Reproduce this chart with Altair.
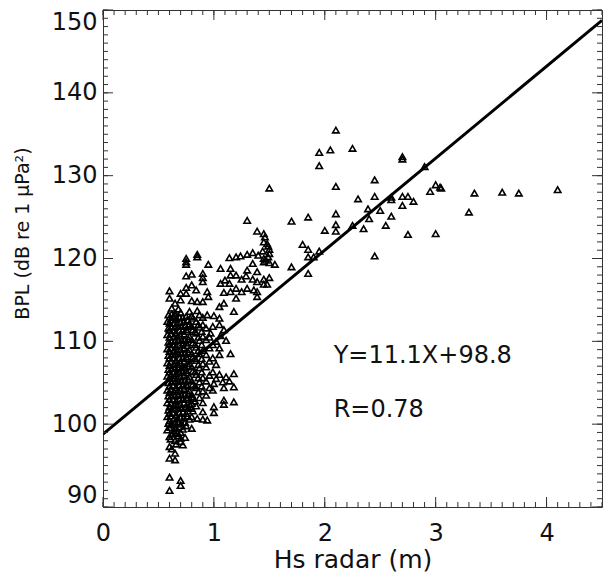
import altair as alt
import pandas as pd

# ---------------- data ----------------
# upper / right scattered points
hs_high = [2.10, 1.95, 2.05, 2.25, 1.95, 2.70, 2.70, 2.90, 2.45, 2.10,
           3.00, 3.05, 3.04, 2.95, 2.30, 2.45, 2.60, 2.60, 2.70, 2.75,
           2.80, 2.70, 2.39, 2.50, 2.40, 2.60, 1.85, 2.10, 2.10, 2.10,
           2.00, 2.25, 2.35, 2.55, 2.75, 3.00, 2.45, 1.80, 1.85, 1.85,
           1.90, 1.95, 1.85, 3.35, 3.60, 3.75, 4.10, 3.30, 1.50, 1.30, 1.70]
bpl_high = [135.5, 132.8, 133.1, 133.3, 131.2, 132.0, 132.3, 131.1, 129.5, 128.7,
            128.9, 128.5, 128.6, 128.1, 127.2, 127.5, 127.4, 127.1, 127.5, 127.5,
            126.9, 126.4, 126.0, 125.8, 124.8, 125.1, 125.0, 125.4, 124.1, 123.3,
            123.4, 124.0, 123.6, 124.0, 122.9, 123.0, 120.3, 121.7, 121.1, 120.2,
            120.2, 120.9, 118.2, 127.9, 128.0, 127.9, 128.3, 125.6, 128.5, 124.6, 124.5]

# middle group (Hs 1.1 - 1.7 m)
hs_mid = [1.39, 1.45, 1.45, 1.49, 1.50, 1.50, 1.49, 1.47, 1.70, 1.55,
          1.14, 1.20, 1.30, 1.35, 1.40, 1.45, 1.45, 1.15, 1.15, 1.30,
          1.35, 1.39, 1.20, 1.25, 1.35, 1.39, 1.45, 1.48, 1.50, 1.45,
          1.14, 1.20, 1.15, 1.25, 1.30, 1.39, 1.39, 1.09, 1.20, 1.18,
          1.46, 1.48, 1.44, 1.50, 1.24, 1.29, 1.10, 1.36]
bpl_mid = [123.3, 123.0, 122.0, 121.5, 121.1, 120.6, 120.2, 119.8, 119.0, 119.3,
           120.1, 120.2, 120.5, 120.7, 120.4, 120.0, 119.6, 118.8, 118.0, 118.6,
           119.4, 118.4, 118.0, 117.5, 117.5, 117.2, 116.9, 116.9, 117.7, 117.5,
           117.0, 116.4, 116.0, 116.0, 116.4, 116.0, 115.4, 115.9, 115.2, 113.6,
           122.6, 121.8, 120.9, 119.5, 120.3, 117.9, 117.4, 116.2]

# upper-left group (Hs 0.6 - 1.1 m, above the dense block)
hs_left = [0.85, 0.85, 0.75, 0.75, 0.75, 0.95, 1.06, 0.90, 0.90, 0.90,
           0.75, 0.80, 1.06, 0.80, 0.75, 0.84, 0.60, 0.60, 0.70, 0.75,
           0.94, 0.95, 0.65, 0.70, 0.80, 0.85, 0.90, 1.05, 1.09, 0.65,
           0.80, 0.85, 0.90, 0.94, 1.00, 1.05, 0.62, 0.68]
bpl_left = [120.5, 120.2, 120.0, 119.6, 119.3, 119.3, 118.8, 118.2, 117.7, 117.2,
            117.9, 118.1, 117.0, 116.8, 116.5, 116.2, 116.1, 115.2, 115.8, 115.8,
            116.0, 115.4, 114.6, 115.0, 114.9, 114.8, 114.8, 114.2, 114.6, 113.1,
            113.1, 113.7, 112.9, 113.2, 113.1, 112.8, 114.0, 113.9]

# points on the right edge / below the dense block
hs_edge = [1.05, 1.09, 0.97, 1.06, 1.11, 1.15, 1.18, 1.18, 1.11, 1.14,
           1.08, 1.09, 1.00, 0.96, 1.18, 0.90, 1.00, 1.00, 1.09, 1.09,
           0.80, 0.85, 0.90, 0.90, 0.94, 0.75, 0.80, 0.75, 0.80, 0.80]
bpl_edge = [112.0, 111.4, 111.0, 110.7, 110.1, 108.5, 106.1, 104.5, 105.7, 105.2,
            105.1, 104.4, 104.9, 104.4, 102.7, 102.6, 102.1, 101.4, 102.9, 102.4,
            100.9, 100.7, 101.5, 100.6, 100.5, 99.8, 99.5, 102.1, 102.5, 103.3]

# low tail
hs_low = [0.60, 0.60, 0.65, 0.70, 0.70, 0.60, 0.65, 0.65, 0.60, 0.70, 0.70, 0.60, 0.62, 0.72]
bpl_low = [98.5, 97.3, 98.9, 98.3, 97.9, 95.9, 96.5, 95.7, 93.6, 93.2, 92.6, 92.0, 97.0, 97.5]

# dense block: Hs value -> BPL values
dense_columns = {
    0.58: [99.3, 100.9, 102.6, 104.1, 105.8, 107.4, 109.1, 110.8, 112.4],
    0.59: [100.1, 101.7, 103.4, 105.0, 106.6, 108.3, 109.9, 111.6, 113.2],
    0.60: [99.6, 100.4, 101.3, 102.1, 103.0, 103.8, 104.6, 105.5, 106.3, 107.1,
           108.0, 108.8, 109.7, 110.5, 111.4, 112.2],
    0.61: [98.2, 101.0, 102.5, 104.2, 105.9, 107.5, 109.2, 110.9, 112.6],
    0.62: [98.8, 100.1, 101.8, 103.4, 105.1, 106.7, 108.4, 110.0, 111.7, 113.3],
    0.63: [99.9, 101.4, 103.0, 104.7, 106.3, 108.0, 109.6, 111.3, 112.9],
    0.64: [99.2, 100.7, 102.3, 104.0, 105.6, 107.3, 108.9, 110.6, 112.2],
    0.65: [98.0, 100.2, 101.9, 103.5, 105.2, 106.8, 108.5, 110.1, 111.8, 113.4],
    0.66: [97.6, 99.5, 101.1, 102.8, 104.4, 106.1, 107.7, 109.4, 111.0, 112.7],
    0.67: [99.0, 100.6, 102.2, 103.9, 105.5, 107.2, 108.8, 110.5, 112.1],
    0.68: [98.6, 100.3, 101.9, 103.6, 105.2, 106.9, 108.5, 110.2, 111.8],
    0.69: [99.7, 101.4, 103.0, 104.7, 106.3, 108.0, 109.6, 111.3, 112.9],
    0.70: [99.0, 100.8, 102.4, 104.1, 105.7, 107.4, 109.0, 110.7, 112.3, 113.5],
    0.71: [100.0, 101.9, 103.5, 105.2, 106.8, 108.5, 110.1, 111.8],
    0.72: [99.4, 101.5, 103.1, 104.8, 106.4, 108.1, 109.8, 111.4, 112.9],
    0.73: [100.8, 102.6, 104.3, 105.9, 107.6, 109.2, 110.9, 112.4],
    0.74: [98.4, 100.2, 102.0, 103.6, 105.3, 106.9, 108.6, 110.2, 111.9],
    0.75: [101.3, 103.2, 104.8, 106.5, 108.1, 109.8, 111.4, 113.0],
    0.76: [101.0, 103.0, 104.6, 106.2, 107.9, 109.5, 111.2, 112.6],
    0.77: [102.0, 103.7, 105.4, 107.0, 108.7, 110.3, 111.9],
    0.78: [100.6, 102.4, 104.0, 105.7, 107.3, 109.0, 110.6, 112.1, 113.6],
    0.80: [101.9, 103.6, 105.2, 106.9, 108.5, 110.2, 111.8, 113.0],
    0.81: [101.6, 103.1, 104.8, 106.4, 108.1, 109.8, 111.4, 112.8],
    0.83: [102.8, 104.6, 106.3, 107.9, 109.6, 111.2],
    0.84: [102.2, 104.4, 106.0, 107.7, 109.3, 111.0, 112.4],
    0.86: [103.9, 105.6, 107.2, 108.9, 110.5, 112.0],
    0.87: [103.2, 105.1, 106.8, 108.5, 110.1, 111.7, 113.2],
    0.89: [104.6, 106.3, 107.9, 109.6, 111.2],
    0.90: [104.0, 105.6, 107.3, 108.9, 110.6, 112.0],
    0.93: [103.5, 105.2, 106.9, 108.4, 110.2, 111.6],
    0.96: [105.9, 107.6, 109.2, 110.5],
    0.99: [104.1, 106.3, 108.0, 109.6, 111.8],
    1.02: [105.5, 107.2, 110.0],
    1.05: [106.0, 108.4, 109.2],
}

# regression and annotation
slope, intercept = 11.1, 98.8
fit_x = [0.0, 4.5]
ann_x = [2.08, 2.08]
ann_y = [108.2, 101.7]
ann_text = ["Y=11.1X+98.8", "R=0.78"]

x_major = [0, 1, 2, 3, 4]
y_major = [90, 100, 110, 120, 130, 140, 150]
x_minor = [round(i * 0.1, 1) for i in range(46)]
y_minor = list(range(90, 151))

# ---------------- tables ----------------
rows = []
for xs, ys in [(hs_high, bpl_high), (hs_mid, bpl_mid), (hs_left, bpl_left),
               (hs_edge, bpl_edge), (hs_low, bpl_low)]:
    rows += [{"hs": x, "bpl": y} for x, y in zip(xs, ys)]
for x, ys in dense_columns.items():
    rows += [{"hs": x, "bpl": y} for y in ys]
pts = pd.DataFrame(rows)

fit = pd.DataFrame({"hs": fit_x, "bpl": [intercept + slope * v for v in fit_x]})
ann = pd.DataFrame({"hs": ann_x, "bpl": ann_y, "label": ann_text})

W, H = 499, 497
FONT = "DejaVu Sans"
INK = "#111"

xscale = alt.Scale(domain=[0, 4.5], nice=False, zero=False)
yscale = alt.Scale(domain=[90, 150], nice=False, zero=False)

x_axis = alt.Axis(values=x_major, format="d", title="Hs radar (m)",
                  labelFont=FONT, labelFontSize=24, labelColor=INK, labelPadding=14,
                  labelFlush=False, ticks=False, tickSize=0, domain=False, grid=False,
                  titleFont=FONT, titleFontSize=25, titleFontWeight="normal",
                  titleColor=INK, titleY=60, titleBaseline="alphabetic")
y_axis = alt.Axis(values=y_major, format="d", title="BPL (dB re 1 μPa²)",
                  labelFont=FONT, labelFontSize=24, labelColor=INK, labelPadding=6,
                  labelFlush=True, ticks=False, tickSize=0, domain=False, grid=False,
                  titleFont=FONT, titleFontSize=19, titleFontWeight="normal",
                  titleColor=INK, titleX=-81, titleY=223, titleAlign="center",
                  titleBaseline="middle")

X = lambda f: alt.X(f, scale=xscale, axis=x_axis)
Y = lambda f: alt.Y(f, scale=yscale, axis=y_axis)

points = alt.Chart(pts).mark_point(
    shape="triangle-up", filled=False, size=42, strokeWidth=1.6,
    color="black", opacity=1
).encode(x=X("hs:Q"), y=Y("bpl:Q"))

line = alt.Chart(fit).mark_line(color="black", strokeWidth=3, clip=True).encode(
    x=X("hs:Q"), y=Y("bpl:Q"))

text = alt.Chart(ann).mark_text(
    align="left", baseline="middle", font=FONT, fontSize=24, color=INK
).encode(x=X("hs:Q"), y=Y("bpl:Q"), text="label:N")


def xticks(vals, length):
    df = pd.DataFrame({"hs": vals})
    base = alt.Chart(df).mark_rule(color="#333", strokeWidth=1)
    bottom = base.encode(x=X("hs:Q"), y=alt.value(H), y2=alt.value(H - length))
    top = base.encode(x=X("hs:Q"), y=alt.value(0), y2=alt.value(length))
    return [bottom, top]


def yticks(vals, length):
    df = pd.DataFrame({"bpl": vals})
    base = alt.Chart(df).mark_rule(color="#333", strokeWidth=1)
    left = base.encode(y=Y("bpl:Q"), x=alt.value(0), x2=alt.value(length))
    right = base.encode(y=Y("bpl:Q"), x=alt.value(W), x2=alt.value(W - length))
    return [left, right]


tick_layers = xticks(x_minor, 5) + xticks(x_major, 10) + yticks(y_minor, 5) + yticks(y_major, 10)

chart = alt.layer(points, line, text, *tick_layers).properties(
    width=W, height=H,
    autosize=alt.AutoSizeParams(type="none"),
    padding={"left": 103, "top": 10, "right": 1, "bottom": 65},
    background="white",
).configure_view(stroke="#333", strokeWidth=1)

chart.save("out.html", embed_options={"renderer": "svg", "actions": False})
